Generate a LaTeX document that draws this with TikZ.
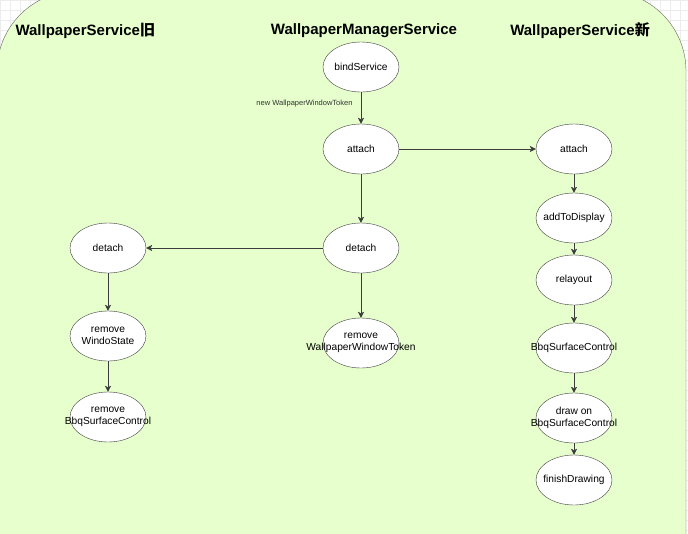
\documentclass[tikz,border=0pt]{standalone}
\usepackage{fontspec}
\setmainfont{Liberation Sans}
\newfontfamily\cjk{Noto Sans CJK SC}
\usepackage{tikz}
\usetikzlibrary{shapes.geometric, arrows.meta, positioning}
\definecolor{bggreen}{RGB}{230,255,204}
\definecolor{edgegray}{RGB}{60,60,60}
\tikzstyle{proc} = [ellipse,
minimum width=76pt,
minimum height=50pt,
inner sep=0pt,
align=center,
font=\fontsize{10.2}{12}\selectfont,
draw=edgegray, fill=white]
\tikzstyle{title} = [font=\fontsize{15}{18}\selectfont\bfseries]
\tikzstyle{arrow} = [draw=edgegray, -{Stealth[length=6pt,width=6pt,inset=1.5pt]}]
\newcommand{\wide}[1]{\makebox[0pt]{#1}}

\begin{document}
\begin{tikzpicture}[node distance=70pt]
    % page, grid and swimlane background
    \clip (0,0) rectangle (688pt,-533pt);
    \draw[gray!15, step=10pt] (0,0) grid (688pt,-533pt);
    \filldraw[fill=bggreen, draw=gray!80!black, rounded corners=80pt] (-3pt,-620pt) rectangle (686pt,9pt);

    % column titles
    \node (hold) [title, anchor=west] at (12pt,-31pt) {WallpaperService{\cjk 旧}};
    \node (hmgr) [title] at (364pt,-31pt) {WallpaperManagerService};
    \node (hnew) [title] at (580pt,-31pt) {WallpaperService{\cjk 新}};

    % WallpaperManagerService
    \node (bind) [proc] at (361pt,-67pt) {bindService};
    \node (mattach) [proc, below of=bind, yshift=-12pt] {attach};
    \node (mdetach) [proc, below of=mattach, yshift=-29pt] {detach};
    \node (mtoken) [proc, below of=mdetach, yshift=-25pt] {remove\\\wide{WallpaperWindowToken}};

    % old WallpaperService
    \node (ldetach) [proc, left of=mdetach, xshift=-183pt] {detach};
    \node (lwin) [proc, below of=ldetach, yshift=-18pt] {remove\\WindoState};
    \node (lbbq) [proc, below of=lwin, yshift=-11pt] {remove\\\wide{BbqSurfaceControl}};

    % new WallpaperService
    \node (rattach) [proc, right of=mattach, xshift=143pt] {attach};
    \node (radd) [proc, below of=rattach, yshift=1pt] {\wide{addToDisplay}};
    \node (rrelay) [proc, below of=radd, yshift=8pt] {relayout};
    \node (rbbq) [proc, below of=rrelay, yshift=2pt] {\wide{BbqSurfaceControl}};
    \node (rdraw) [proc, below of=rbbq] {draw on\\\wide{BbqSurfaceControl}};
    \node (rfinish) [proc, below of=rdraw, yshift=8pt] {\wide{finishDrawing}};

    \draw [arrow] (bind) -- node[anchor=east, pos=0.35, xshift=-5pt, text=black!80, font=\fontsize{7.5}{9}\selectfont] {new WallpaperWindowToken} (mattach);
    \draw [arrow] (mattach) -- (mdetach);
    \draw [arrow] (mattach) -- (rattach);
    \draw [arrow] (mdetach) -- (ldetach);
    \draw [arrow] (mdetach) -- (mtoken);
    \draw [arrow] (ldetach) -- (lwin);
    \draw [arrow] (lwin) -- (lbbq);
    \draw [arrow] (rattach) -- (radd);
    \draw [arrow] (radd) -- (rrelay);
    \draw [arrow] (rrelay) -- (rbbq);
    \draw [arrow] (rbbq) -- (rdraw);
    \draw [arrow] (rdraw) -- (rfinish);
\end{tikzpicture}
\end{document}
